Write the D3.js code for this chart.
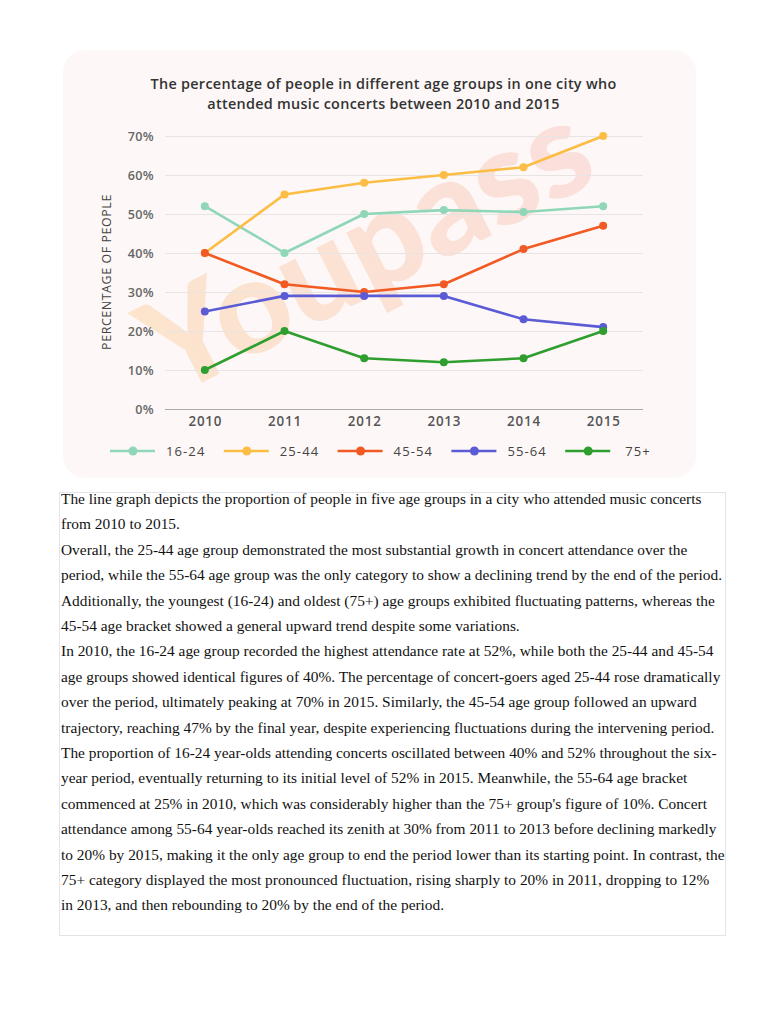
<!DOCTYPE html>
<html>
<head>
<meta charset="utf-8">
<script src="https://cdn.jsdelivr.net/npm/d3@7"></script>
<style>
  html, body { margin: 0; padding: 0; background: #ffffff; }
  svg { display: block; }
</style>
</head>
<body>
<svg id="page" width="768" height="1024"></svg>
<script>
// ---------- data ----------
const years = ["2010", "2011", "2012", "2013", "2014", "2015"];
const seriesNames = ["16-24", "25-44", "45-54", "55-64", "75+"];
const s1624 = [52, 40, 50, 51, 50.5, 52];
const s2544 = [40, 55, 58, 60, 62, 70];
const s4554 = [40, 32, 30, 32, 41, 47];
const s5564 = [25, 29, 29, 29, 23, 21];
const s75p  = [10, 20, 13, 12, 13, 20];
const yTicks = [0, 10, 20, 30, 40, 50, 60, 70];
const titleLines = [
  "The percentage of people in different age groups in one city who",
  "attended music concerts between 2010 and 2015"
];
const yAxisTitle = "PERCENTAGE OF PEOPLE";
const watermark = "Youpass";
const paragraphLines = [
  "The line graph depicts the proportion of people in five age groups in a city who attended music concerts",
  "from 2010 to 2015.",
  "Overall, the 25-44 age group demonstrated the most substantial growth in concert attendance over the",
  "period, while the 55-64 age group was the only category to show a declining trend by the end of the period.",
  "Additionally, the youngest (16-24) and oldest (75+) age groups exhibited fluctuating patterns, whereas the",
  "45-54 age bracket showed a general upward trend despite some variations.",
  "In 2010, the 16-24 age group recorded the highest attendance rate at 52%, while both the 25-44 and 45-54",
  "age groups showed identical figures of 40%. The percentage of concert-goers aged 25-44 rose dramatically",
  "over the period, ultimately peaking at 70% in 2015. Similarly, the 45-54 age group followed an upward",
  "trajectory, reaching 47% by the final year, despite experiencing fluctuations during the intervening period.",
  "The proportion of 16-24 year-olds attending concerts oscillated between 40% and 52% throughout the six-",
  "year period, eventually returning to its initial level of 52% in 2015. Meanwhile, the 55-64 age bracket",
  "commenced at 25% in 2010, which was considerably higher than the 75+ group's figure of 10%. Concert",
  "attendance among 55-64 year-olds reached its zenith at 30% from 2011 to 2013 before declining markedly",
  "to 20% by 2015, making it the only age group to end the period lower than its starting point. In contrast, the",
  "75+ category displayed the most pronounced fluctuation, rising sharply to 20% in 2011, dropping to 12%",
  "in 2013, and then rebounding to 20% by the end of the period."
];

const seriesValues = [s1624, s2544, s4554, s5564, s75p];
const colors = ["#8fd7b8", "#fbbd44", "#f25a24", "#5b5bd6", "#2e9e2e"];

// ---------- layout ----------
const svg = d3.select("#page");
const chartFont = "'Open Sans', 'Noto Sans', sans-serif";

const defs = svg.append("defs");
const grad = defs.append("linearGradient").attr("id", "wm")
  .attr("x1", "0%").attr("y1", "0%").attr("x2", "100%").attr("y2", "0%");
grad.append("stop").attr("offset", "0%").attr("stop-color", "#fbb86e");
grad.append("stop").attr("offset", "100%").attr("stop-color", "#f6a7a0");

// card
svg.append("rect")
  .attr("x", 63).attr("y", 50).attr("width", 633).attr("height", 428)
  .attr("rx", 22).attr("ry", 22)
  .attr("fill", "#fdf8f7");

// title
svg.append("g").selectAll("text").data(titleLines).join("text")
  .attr("x", 383.5)
  .attr("y", (d, i) => 89 + i * 20)
  .attr("text-anchor", "middle")
  .attr("font-family", chartFont)
  .attr("font-weight", 600)
  .attr("font-size", 14.4)
  .attr("letter-spacing", 0.3)
  .attr("fill", "#333333")
  .text(d => d);

const x = d3.scalePoint().domain(years).range([165, 643]).padding(0.5);
const y = d3.scaleLinear().domain([0, 70]).range([409, 136]);

// watermark
svg.append("text")
  .attr("transform", "translate(172,398) rotate(-27)")
  .attr("font-family", "'Lato', sans-serif")
  .attr("font-weight", 900)
  .attr("font-size", 132)
  .attr("fill", "url(#wm)")
  .attr("opacity", 0.3)
  .text(watermark);

// gridlines + y axis
const yAxis = d3.axisLeft(y).tickValues(yTicks).tickSize(-(643 - 165)).tickFormat(d => d + "%");
const gy = svg.append("g").attr("transform", "translate(165,0)").call(yAxis);
gy.select(".domain").remove();
gy.selectAll(".tick line")
  .attr("stroke", d => d === 0 ? "#aaaaaa" : "#e8e4e4")
  .attr("stroke-width", 1);
gy.selectAll(".tick text")
  .attr("x", -11)
  .attr("font-family", chartFont)
  .attr("font-weight", 600)
  .attr("font-size", 12.6)
  .attr("letter-spacing", 0.3)
  .attr("fill", "#666666");

// y axis title
svg.append("text")
  .attr("transform", "translate(111,272) rotate(-90)")
  .attr("text-anchor", "middle")
  .attr("font-family", chartFont)
  .attr("font-size", 12.4)
  .attr("letter-spacing", 0.6)
  .attr("fill", "#444444")
  .text(yAxisTitle);

// x axis labels
const xAxis = d3.axisBottom(x).tickSize(0).tickPadding(0);
const gx = svg.append("g").attr("transform", "translate(0,409)").call(xAxis);
gx.select(".domain").remove();
gx.selectAll(".tick text")
  .attr("dy", 17)
  .attr("font-family", chartFont)
  .attr("font-weight", 600)
  .attr("font-size", 13.4)
  .attr("letter-spacing", 0.8)
  .attr("fill", "#555555");

// lines
const line = d3.line().x((d, i) => x(years[i])).y(d => y(d));
const gs = svg.append("g").selectAll("g").data(seriesValues).join("g");
gs.append("path")
  .attr("d", d => line(d))
  .attr("fill", "none")
  .attr("stroke", (d, i) => colors[i])
  .attr("stroke-width", 2.6)
  .attr("stroke-linejoin", "round");
gs.each(function (vals, si) {
  d3.select(this).selectAll("circle").data(vals).join("circle")
    .attr("cx", (d, i) => x(years[i]))
    .attr("cy", d => y(d))
    .attr("r", 4)
    .attr("fill", colors[si]);
});

// legend
const leg = svg.append("g").attr("transform", "translate(110,451)");
const legItems = leg.selectAll("g").data(seriesNames).join("g")
  .attr("transform", (d, i) => `translate(${i * 113.8},0)`);
legItems.append("line")
  .attr("x1", 0).attr("x2", 45).attr("y1", 0).attr("y2", 0)
  .attr("stroke", (d, i) => colors[i]).attr("stroke-width", 2.6);
legItems.append("circle")
  .attr("cx", 23).attr("cy", 0).attr("r", 4.5)
  .attr("fill", (d, i) => colors[i]);
legItems.append("text")
  .attr("x", (d, i) => i === 4 ? 60 : 56).attr("y", 4.5)
  .attr("font-family", chartFont)
  .attr("font-size", 13)
  .attr("letter-spacing", 1.1)
  .attr("fill", "#444444")
  .text(d => d);

// ---------- paragraph box ----------
svg.append("rect")
  .attr("x", 59.5).attr("y", 492.5).attr("width", 666).attr("height", 443)
  .attr("fill", "none").attr("stroke", "#e3e3ea").attr("stroke-width", 1);

svg.append("g")
  .attr("transform", "translate(61,0) scale(1.055,1)")
  .selectAll("text").data(paragraphLines).join("text")
  .attr("x", 0)
  .attr("y", (d, i) => 504 + i * 25.4)
  .attr("font-family", "'Liberation Serif', 'Times New Roman', serif")
  .attr("font-size", 14.6)
  .attr("fill", "#111111")
  .text(d => d);
</script>
</body>
</html>
